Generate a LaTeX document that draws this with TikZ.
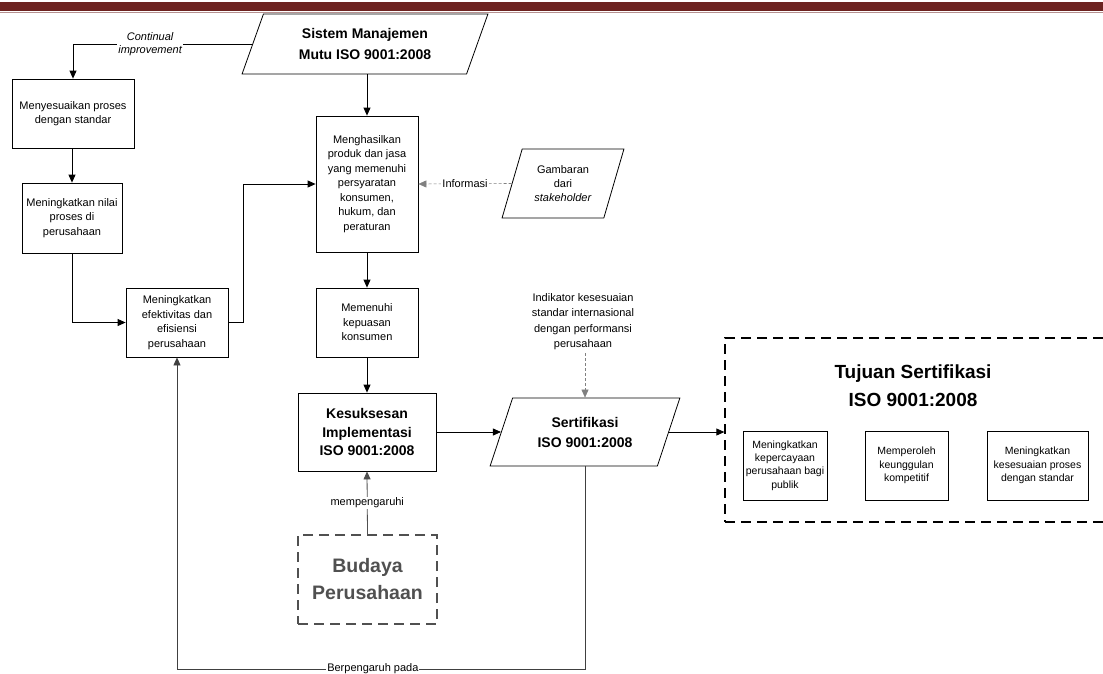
\documentclass[tikz,border=0pt]{standalone}
\usepackage{fontspec}
\setmainfont{Liberation Sans}
\usepackage{xcolor}
\usepackage{tikz}
\usetikzlibrary{shapes.geometric}
\usetikzlibrary{arrows.meta}
\usetikzlibrary{calc}
\definecolor{headred}{RGB}{109,35,33}
\definecolor{culture}{RGB}{80,80,80}

\begin{document}
\begin{tikzpicture}[x=1pt, y=-1pt,
	box/.style={draw, line width=0.8pt, align=center, inner sep=1pt, font=\fontsize{11}{14.5}\selectfont},
	para/.style 2 args={draw, line width=0.8pt, trapezium, trapezium left angle=#1, trapezium right angle=#2, trapezium stretches=true, align=center, inner sep=1pt},
	arr/.style={-{Triangle[length=8pt,width=7pt]}, line width=0.8pt},
	info/.style={arr, densely dashed, gray, line width=0.6pt},
	lbl/.style={fill=white, text=black, inner sep=1pt, align=center, font=\fontsize{11}{13}\selectfont},
	bigdash/.style={draw, line width=1.3pt, dash pattern=on 10pt off 6pt}]

	\useasboundingbox (0,0) rectangle (1103,673);
	\clip (0,0) rectangle (1103,673);

%header
	\fill[headred] (0,2) rectangle (1103,11);
	\draw[headred!50, line width=0.8pt] (0,12.5) -- (1103,12.5);

%left column
	\node[para={67}{113}, minimum width=246, minimum height=60, font=\bfseries\fontsize{14}{21}\selectfont] (sistem) at (365,44) {Sistem Manajemen\\Mutu ISO 9001:2008};
	\node[box, minimum width=122, minimum height=69] (sesuai) at (73,113.5) {Menyesuaikan proses\\dengan standar};
	\node[box, minimum width=100, minimum height=70] (nilai) at (72,218) {Meningkatkan nilai\\proses di\\perusahaan};
	\node[box, minimum width=102, minimum height=69] (efektif) at (177,322.5) {Meningkatkan\\efektivitas dan\\efisiensi\\perusahaan};

%middle column
	\node[box, minimum width=102, minimum height=136] (hasil) at (367,184) {Menghasilkan\\produk dan jasa\\yang memenuhi\\persyaratan\\konsumen,\\hukum, dan\\peraturan};
	\node[box, minimum width=102, minimum height=69] (puas) at (367,322.5) {Memenuhi\\kepuasan\\konsumen};
	\node[box, minimum width=138, minimum height=78, font=\bfseries\fontsize{14}{18.5}\selectfont] (sukses) at (367,432) {Kesuksesan\\Implementasi\\ISO 9001:2008};
	\node[bigdash, draw=culture, text=culture, minimum width=139, minimum height=89, align=center, font=\bfseries\fontsize{19.5}{27}\selectfont] (budaya) at (367.5,579.5) {Budaya\\Perusahaan};

%right part
	\node[para={69}{111}, minimum width=122, minimum height=69, font=\fontsize{11}{14}\selectfont] (gambar) at (563,183.5) {Gambaran\\dari\\\textit{stakeholder}};
	\node[align=center, font=\fontsize{11}{15.5}\selectfont] (indikator) at (583,321.5) {Indikator kesesuaian\\standar internasional\\dengan performansi\\perusahaan};
	\node[para={65}{115}, minimum width=190, minimum height=68, font=\bfseries\fontsize{14}{20}\selectfont] (sert) at (585,432) {Sertifikasi\\ISO 9001:2008};

%goals
	\node[bigdash, minimum width=385, minimum height=184] (tujuan) at (917.5,430) {};
	\node[align=center, font=\bfseries\fontsize{19}{28}\selectfont] (judul) at (913,386) {Tujuan Sertifikasi\\ISO 9001:2008};
	\foreach \xx/\ww/\name/\txt in {785/84/goala/{Meningkatkan\\kepercayaan\\perusahaan bagi\\publik}, 906.5/83/goalb/{Memperoleh\\keunggulan\\kompetitif}, 1037.5/101/goalc/{Meningkatkan\\kesesuaian proses\\dengan standar}}{
		\node[box, minimum width=\ww, minimum height=69, font=\fontsize{10.5}{13.3}\selectfont] (\name) at (\xx,465.5) {\txt};
	}

%arrows
	\coordinate (bottom) at (0,669);
	\draw[arr] (hasil.north |- sistem.south) -- (hasil.north);
	\draw[arr] (sistem.west) -- node[lbl, pos=0.57, font=\itshape\fontsize{11}{13}\selectfont] {Continual\\improvement} (sistem.west -| sesuai.north) -- (sesuai.north);
	\draw[arr] (sesuai.south -| nilai.north) -- (nilai.north);
	\draw[arr] (nilai.south) |- (efektif.west);
	\draw[arr] (efektif.east) -- ++(15,0) |- (hasil.west);
	\draw[arr] (hasil.south) -- (puas.north);
	\draw[arr] (puas.south) -- (sukses.north);
	\draw[info] (gambar.west) -- node[lbl] {Informasi} (hasil.east);
	\draw[info] (sert.north |- indikator.south) -- (sert.north);
	\draw[arr] (sukses.east) -- (sert.west);
	\draw[arr] (sert.east) -- (sert.east -| tujuan.west);
	\draw[arr, culture] (budaya.north) -- node[lbl] {mempengaruhi} (sukses.south);
	\draw[arr, black!75] (sert.south) |- node[lbl, pos=0.76] {Berpengaruh pada} (bottom -| efektif.south) -- (efektif.south);

\end{tikzpicture}
\end{document}
